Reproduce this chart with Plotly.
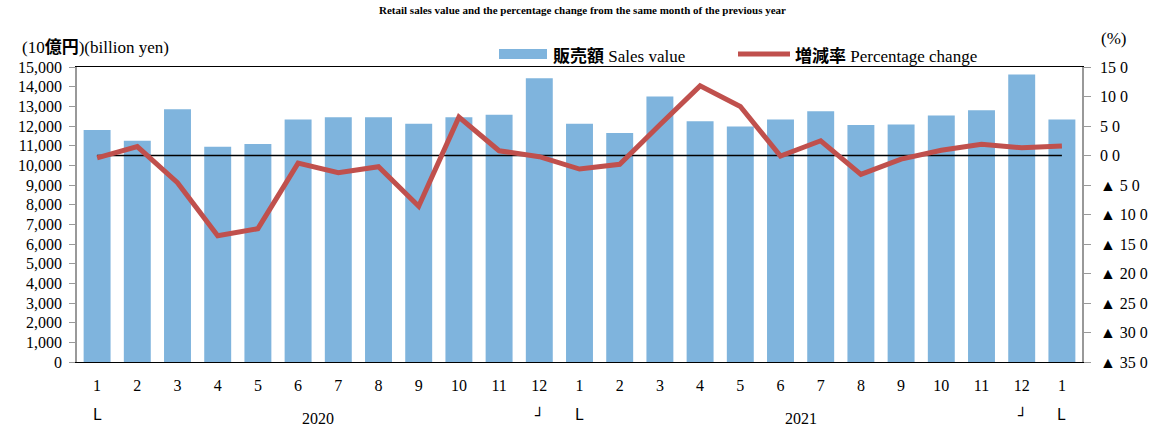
import plotly.graph_objects as go

# ---- data ----
months = ["1", "2", "3", "4", "5", "6", "7", "8", "9", "10", "11", "12",
          "1", "2", "3", "4", "5", "6", "7", "8", "9", "10", "11", "12", "1"]
sales_value = [11800, 11250, 12850, 10950, 11080, 12330, 12450, 12450, 12120, 12450, 12570, 14430,
               12120, 11650, 13500, 12240, 11980, 12330, 12750, 12050, 12070, 12540, 12800, 14620, 12330]
pct_change = [-0.4, 1.5, -4.6, -13.6, -12.4, -1.3, -2.9, -1.9, -8.6, 6.5, 0.8, -0.2,
              -2.3, -1.5, 5.2, 11.8, 8.3, -0.1, 2.5, -3.2, -0.6, 0.9, 1.9, 1.3, 1.6]
years = ["2020", "2021"]
year_pos = [5.5, 17.5]
start_marks = [0, 12, 24]
end_marks = [11, 23]
left_ticks = list(range(0, 15001, 1000))
right_ticks = [15, 10, 5, 0, -5, -10, -15, -20, -25, -30, -35]
right_ticktext = ["15 0", "10 0", "5 0", "0 0", "▲ 5 0", "▲ 10 0", "▲ 15 0", "▲ 20 0",
                  "▲ 25 0", "▲ 30 0", "▲ 35 0"]

FONT = "Liberation Serif"
CJK = "Noto Sans CJK JP"
BLUE = "#7fb4dd"
RED = "#c0504d"

def cjk(s):
    return f'<span style="font-family:{CJK};font-weight:bold">{s}</span>'

x = list(range(len(months)))

fig = go.Figure()
fig.add_trace(go.Bar(x=x, y=sales_value, marker=dict(color=BLUE, line=dict(width=0)),
                     name="販売額 Sales value", yaxis="y"))
fig.add_trace(go.Scatter(x=[x[0], x[-1]], y=[0, 0], mode="lines",
                         line=dict(color="black", width=1.3), yaxis="y2",
                         hoverinfo="skip", showlegend=False))
fig.add_trace(go.Scatter(x=x, y=pct_change, mode="lines", name="増減率 Percentage change",
                         line=dict(color=RED, width=5), yaxis="y2"))

# plot-area pixel geometry helpers
L, R, T, B = 77, 1082, 67, 362
def px(v):
    return (v - L) / (R - L)
def py(v):
    return (B - v) / (B - T)

annotations = []
for yr, pos in zip(years, year_pos):
    annotations.append(dict(x=pos, y=py(418), xref="x", yref="paper", text=yr, showarrow=False,
                            font=dict(family=FONT, size=16, color="black"), yanchor="middle"))
for p in start_marks:
    annotations.append(dict(x=p, y=py(415), xref="x", yref="paper", text="L", showarrow=False,
                            font=dict(family="DejaVu Sans", size=15, color="black"), yanchor="middle"))
for p in end_marks:
    annotations.append(dict(x=p, y=py(415), xref="x", yref="paper", text="┘", showarrow=False,
                            font=dict(family="DejaVu Sans", size=15, color="black"), yanchor="middle"))

annotations.append(dict(x=px(20), y=py(45), xref="paper", yref="paper", xanchor="left",
                        yanchor="middle", text="(10" + cjk("億円") + ")(billion yen)", showarrow=False,
                        font=dict(family=FONT, size=17, color="black")))
annotations.append(dict(x=px(1113), y=py(38), xref="paper", yref="paper", xanchor="center",
                        yanchor="middle", text="(%)", showarrow=False,
                        font=dict(family=FONT, size=17, color="black")))
annotations.append(dict(x=px(551), y=py(54), xref="paper", yref="paper", xanchor="left",
                        yanchor="middle", text=cjk("販売額") + " Sales value", showarrow=False,
                        font=dict(family=FONT, size=17, color="black")))
annotations.append(dict(x=px(793), y=py(54), xref="paper", yref="paper", xanchor="left",
                        yanchor="middle", text=cjk("増減率") + " Percentage change", showarrow=False,
                        font=dict(family=FONT, size=17, color="black")))

shapes = [
    dict(type="rect", xref="paper", yref="paper", x0=px(499), x1=px(547), y0=py(59), y1=py(49),
         fillcolor=BLUE, line=dict(width=0)),
    dict(type="line", xref="paper", yref="paper", x0=px(738), x1=px(790), y0=py(54), y1=py(54),
         line=dict(color=RED, width=5)),
]

fig.update_layout(
    width=1165, height=430,
    margin=dict(l=L, r=1165 - R, t=T, b=430 - B),
    paper_bgcolor="white", plot_bgcolor="white",
    showlegend=False,
    bargap=0.33,
    title=dict(text="<b>Retail sales value and the percentage change from the same month of the previous year</b>",
               x=0.5, xanchor="center", y=1 - 10 / 430, yanchor="middle",
               font=dict(family=FONT, size=11, color="black")),
    xaxis=dict(range=[-0.5, len(months) - 0.5], tickvals=x, ticktext=months,
               showline=True, linecolor="black", linewidth=1.3, mirror=True,
               ticks="outside", ticklen=9, tickcolor="rgba(0,0,0,0)",
               tickfont=dict(family=FONT, size=16, color="black"),
               showgrid=False, zeroline=False),
    yaxis=dict(range=[0, 15000], tickvals=left_ticks, tickformat=",d",
               showline=True, linecolor="#999999", linewidth=1.5,
               ticks="outside", ticklen=6, tickcolor="#999999", ticklabelstandoff=4,
               tickfont=dict(family=FONT, size=16, color="black"),
               showgrid=False, zeroline=False),
    yaxis2=dict(range=[-35, 15], overlaying="y", side="right",
                tickvals=right_ticks, ticktext=right_ticktext,
                showline=True, linecolor="#999999", linewidth=1.5,
                ticks="outside", ticklen=7, tickcolor="#999999", ticklabelstandoff=6,
                tickfont=dict(family=FONT, size=16, color="black"),
                showgrid=False, zeroline=False),
    annotations=annotations,
    shapes=shapes,
)

fig.write_html("out.html", config={"displayModeBar": False})

# remove default page margin so the figure sits at the window's top-left corner
with open("out.html", encoding="utf-8") as f:
    html = f.read()
html = html.replace("<body>", '<body style="margin:0;padding:0;overflow:hidden;">', 1)
with open("out.html", "w", encoding="utf-8") as f:
    f.write(html)
